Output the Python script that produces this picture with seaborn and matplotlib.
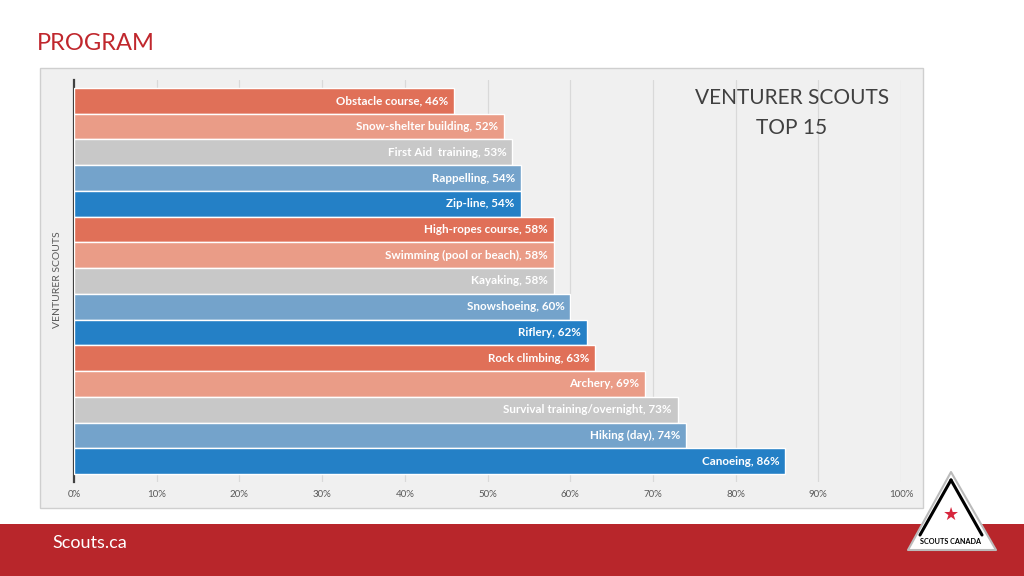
# -------------------------------------------
# импортирование библиотек
import matplotlib
matplotlib.use('Agg')
import matplotlib.pyplot as plt
import matplotlib.patches as mpatches
import seaborn as sns

# -------------------------------------------
# данные
activities = ['Obstacle course', 'Snow-shelter building', 'First Aid  training',
              'Rappelling', 'Zip-line', 'High-ropes course', 'Swimming (pool or beach)',
              'Kayaking', 'Snowshoeing', 'Riflery', 'Rock climbing', 'Archery',
              'Survival training/overnight', 'Hiking (day)', 'Canoeing']
percents = [46, 52, 53, 54, 54, 58, 58, 58, 60, 62, 63, 69, 73, 74, 86]
palette5 = ['#E07058', '#EA9C87', '#C8C8C8', '#74A3CB', '#2480C6']
bar_colors = [palette5[i % 5] for i in range(len(activities))]
ticks = [0, 10, 20, 30, 40, 50, 60, 70, 80, 90, 100]

# -------------------------------------------
# оформление
sns.set_style('white')
plt.rcParams['font.family'] = ['Lato', 'DejaVu Sans']

fig = plt.figure(figsize=(10.24, 5.76), dpi=100)
W, H = 1024, 576

def fx(px):
    return px / W

def fy(py):
    return 1 - py / H

# серая панель под графиком
fig.patches.append(mpatches.Rectangle((fx(40), fy(508)), fx(883), 440 / H,
                                      transform=fig.transFigure, facecolor='#F0F0F0',
                                      edgecolor='#CFCFCF', linewidth=1, zorder=-2))
# красная полоса внизу
fig.patches.append(mpatches.Rectangle((0, 0), 1, 52 / H, transform=fig.transFigure,
                                      facecolor='#B8262B', edgecolor='none', zorder=-2))

ax = fig.add_axes([fx(74), fy(482), fx(827), 402 / H])
ax.set_zorder(1)
ax.set_facecolor('none')

sns.barplot(x=percents, y=activities, hue=activities, palette=bar_colors, legend=False,
            orient='h', width=1, saturation=1, edgecolor='white', linewidth=1, ax=ax,
            zorder=3)

# подписи внутри столбцов
for i, (name, v) in enumerate(zip(activities, percents)):
    ax.text(v - 0.7, i, f'{name}, {v}%', ha='right', va='center', color='white',
            fontweight='bold', fontsize=8.4, zorder=4)

ax.set_xlim(0, 100)
ax.set_ylim(14.81, -0.81)
ax.set_xticks(ticks)
ax.set_xticklabels([f'{t}%' for t in ticks], fontsize=7, color='#595959')
ax.set_yticks([])
ax.set_ylabel('')
ax.set_xlabel('')
ax.xaxis.grid(True, color='#D9D9D9', linewidth=0.9, zorder=0)
ax.set_axisbelow(True)
ax.tick_params(axis='x', length=0, pad=6)
for s in ['top', 'right', 'bottom']:
    ax.spines[s].set_visible(False)
ax.spines['left'].set_color('#404040')
ax.spines['left'].set_linewidth(1.6)

# тексты
fig.text(fx(37), fy(43), 'PROGRAM', fontsize=17, color='#C0272D', va='center', ha='left')
fig.text(fx(792), fy(113), 'VENTURER SCOUTS\nTOP 15', fontsize=15, color='#404040',
         ha='center', va='center', linespacing=1.65)
fig.text(fx(57), fy(280), 'VENTURER SCOUTS', rotation=90, fontsize=7.5, color='#595959',
         ha='center', va='center')
fig.text(fx(52), fy(543), 'Scouts.ca', fontsize=13, color='white', ha='left', va='center')

# упрощённый логотип
tri = mpatches.Polygon([(fx(951), fy(472)), (fx(996), fy(550)), (fx(908), fy(550))],
                       closed=True, transform=fig.transFigure, facecolor='white',
                       edgecolor='#BBBBBB', linewidth=1.5, joinstyle='round', zorder=5)
fig.patches.append(tri)
fig.lines.append(plt.Line2D([fx(951), fx(920)], [fy(480), fy(535)],
                            transform=fig.transFigure, color='black', linewidth=2.2, zorder=6))
fig.lines.append(plt.Line2D([fx(951), fx(982)], [fy(480), fy(535)],
                            transform=fig.transFigure, color='black', linewidth=2.2, zorder=6))
fig.text(fx(951), fy(515), '★', fontsize=13, color='#D7263D', ha='center', va='center',
         family=['DejaVu Sans'], zorder=7)
fig.text(fx(951), fy(541), 'SCOUTS CANADA', fontsize=5.2, color='black', fontweight='bold',
         ha='center', va='center', zorder=7)

fig.savefig('out.png', dpi=100)
